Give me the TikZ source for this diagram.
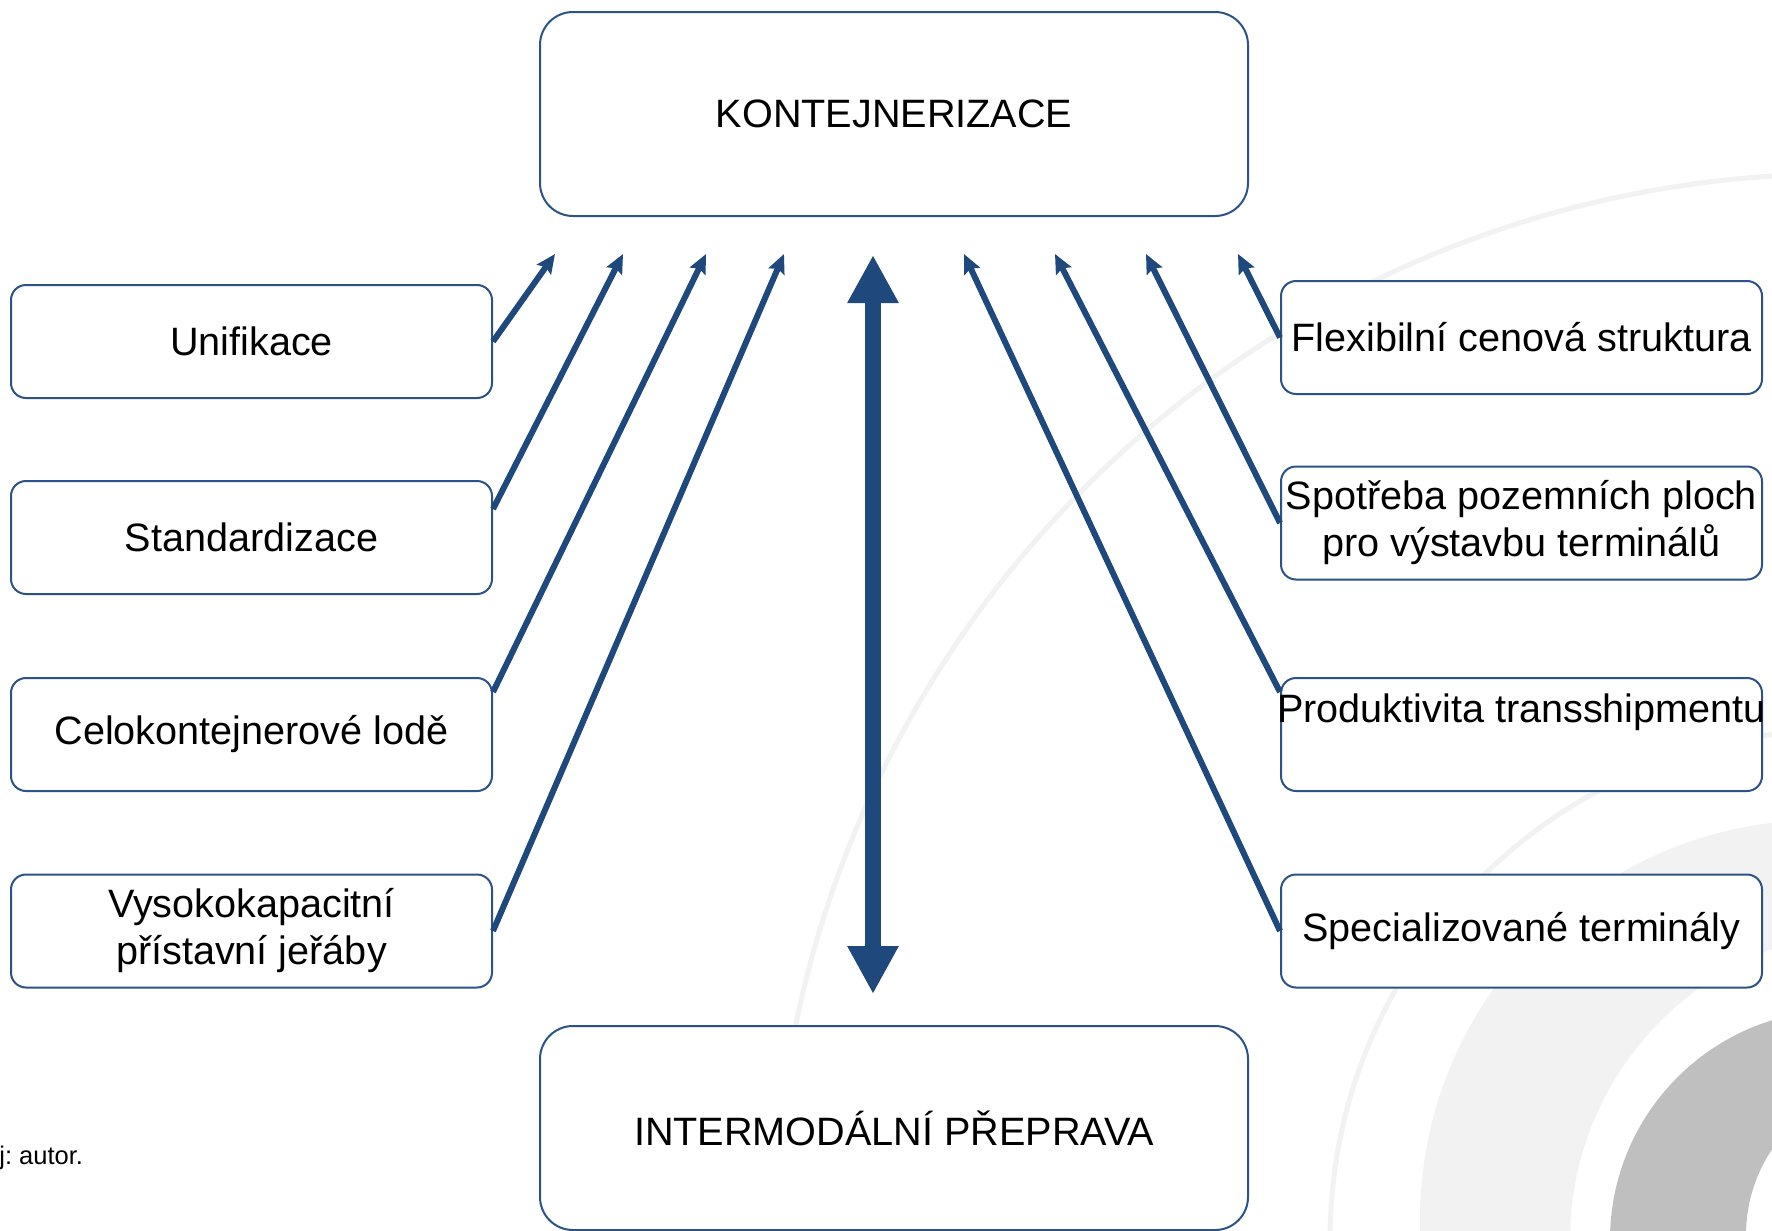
\documentclass[tikz,border=0pt]{standalone}
\usepackage{fontspec}
\setmainfont{Liberation Sans}
\usetikzlibrary{arrows.meta}
\definecolor{arrowblue}{HTML}{1F497D}
\definecolor{boxblue}{HTML}{2C5288}
\definecolor{bglight}{HTML}{F2F2F2}
\definecolor{bgdark}{HTML}{BFBFBF}
\newcommand{\zw}[1]{\makebox[0pt]{#1}}
\frenchspacing
\begin{document}
\begin{tikzpicture}[x=0.5pt,y=-0.5pt,
  smallbox/.style={draw=boxblue, line width=1pt, fill=white, rounded corners=7.5pt,
    minimum width=240.5pt, minimum height=56.5pt, inner sep=0pt, align=center,
    font=\fontsize{19.8pt}{23.5pt}\selectfont},
  bigbox/.style={smallbox, rounded corners=16.5pt, minimum width=354pt, minimum height=102pt},
  thinarrow/.style={draw=arrowblue, line width=3pt, -{Stealth[length=9.5pt,width=8.5pt,inset=1.5pt]}},
  bigarrow/.style={draw=arrowblue, line width=8pt,
    {Triangle[length=24pt,width=24pt]}-{Triangle[length=24pt,width=24pt]}},
]
\useasboundingbox (0,0) rectangle (1772,1231);
% background decoration
\begin{scope}
\clip (0,0) rectangle (1772,1231);
\fill[white] (0,0) rectangle (1772,1231);
\draw[bglight, line width=2.5pt] (1840,1240) circle[radius=533pt];
\draw[bglight, line width=2.5pt] (1840,1240) circle[radius=255pt];
\fill[bglight, even odd rule] (1820,1220) circle[radius=200pt] (1880,1240) circle[radius=155pt];
\fill[bgdark, even odd rule] (1840,1240) circle[radius=115pt] (1900,1235) circle[radius=77pt];
\end{scope}
% boxes
\node[bigbox] (kont) at (894,114) {\zw{KONTEJNERIZACE}};
\node[bigbox] (inter) at (894,1128) {\zw{INTERMODÁLNÍ PŘEPRAVA}};
\node[smallbox] (uni) at (251.5,341.5) {\zw{Unifikace}};
\node[smallbox] (std) at (251.5,537.5) {\zw{Standardizace}};
\node[smallbox] (celo) at (251.5,734.5) {\zw{Celokontejnerové lodě}};
\node[smallbox] (vys) at (251.5,931) {\zw{Vysokokapacitní}\\\zw{přístavní jeřáby}};
\node[smallbox] (flex) at (1521.5,337.5) {\zw{Flexibilní cenová struktura}};
\node[smallbox] (spot) at (1521.5,523) {\zw{Spotřeba pozemních ploch}\\\zw{pro výstavbu terminálů}};
\node[smallbox] (prod) at (1521.5,734.5) {\raisebox{11.25pt}[\height][\depth]{\zw{Produktivita transshipmentu}}};
\node[smallbox] (spec) at (1521.5,931) {\zw{Specializované terminály}};
\node[anchor=west, inner sep=0pt, font=\fontsize{12.75pt}{15pt}\selectfont] (src) at (-1,1158) {j: autor.};
% arrow tips
\coordinate (t1) at (555,254);
\coordinate (t2) at (623,254);
\coordinate (t3) at (706,254);
\coordinate (t4) at (784,254);
\coordinate (t5) at (964,254);
\coordinate (t6) at (1055,254);
\coordinate (t7) at (1146,254);
\coordinate (t8) at (1238,254);
\coordinate (btop) at (873,255);
\coordinate (bbot) at (873,994);
% connectors
\draw[thinarrow] (uni.east) -- (t1);
\draw[thinarrow] ([yshift=14.25pt]std.east) -- (t2);
\draw[thinarrow] ([yshift=21.25pt]celo.east) -- (t3);
\draw[thinarrow] (vys.east) -- (t4);
\draw[thinarrow] (spec.west) -- (t5);
\draw[thinarrow] ([yshift=21.25pt]prod.west) -- (t6);
\draw[thinarrow] (spot.west) -- (t7);
\draw[thinarrow] (flex.west) -- (t8);
\draw[bigarrow] (bbot) -- (btop);
\end{tikzpicture}
\end{document}
